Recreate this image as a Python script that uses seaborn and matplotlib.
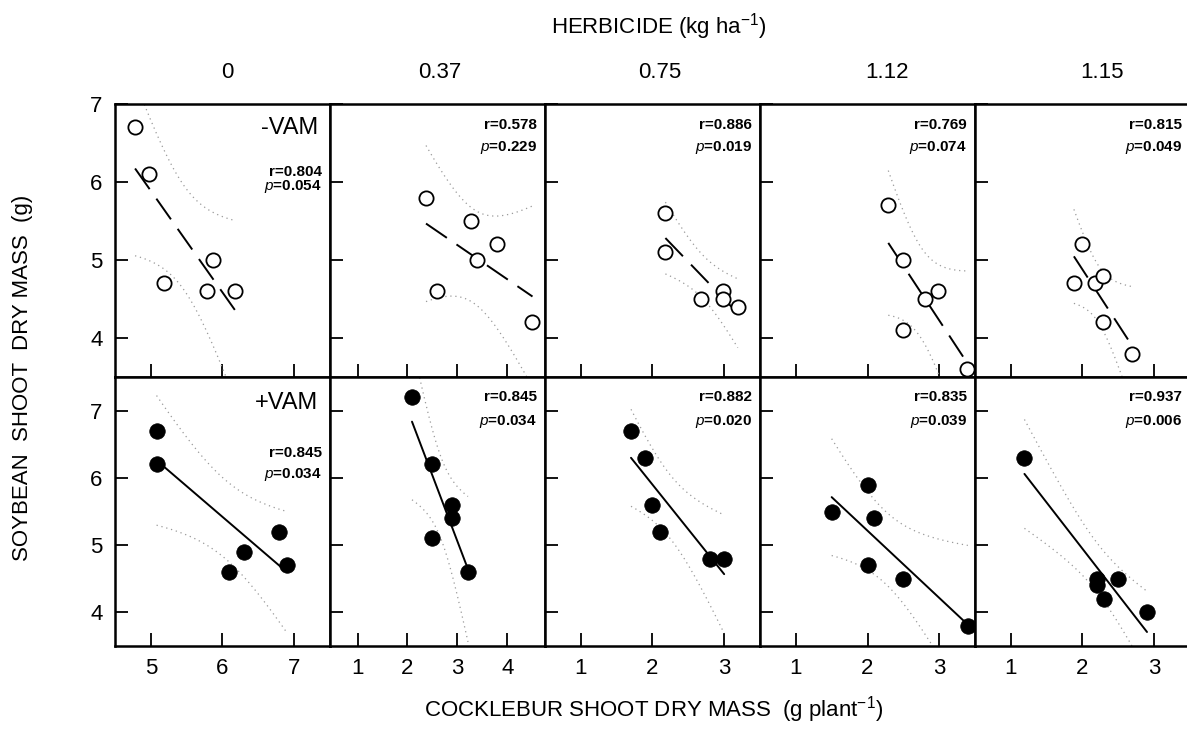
import numpy as np
import pandas as pd
import matplotlib
matplotlib.use("Agg")
import matplotlib.pyplot as plt
import seaborn as sns

# ---------------- data ----------------
herbicide = ["0", "0.37", "0.75", "1.12", "1.15"]

# -VAM (open circles)
x_nvam = [[4.78, 4.98, 5.19, 5.87, 5.78, 6.18],
          [2.37, 3.27, 3.79, 3.40, 2.59, 4.50],
          [2.18, 2.18, 2.68, 2.99, 2.99, 3.19],
          [2.29, 2.50, 2.99, 2.80, 2.50, 3.39],
          [1.99, 1.88, 2.18, 2.29, 2.29, 2.69]]
y_nvam = [[6.7, 6.1, 4.7, 5.0, 4.6, 4.6],
          [5.8, 5.5, 5.2, 5.0, 4.6, 4.2],
          [5.6, 5.1, 4.5, 4.6, 4.5, 4.4],
          [5.7, 5.0, 4.6, 4.5, 4.1, 3.6],
          [5.2, 4.7, 4.7, 4.8, 4.2, 3.8]]
# +VAM (filled circles)
x_pvam = [[5.08, 5.08, 6.79, 6.30, 6.09, 6.90],
          [2.09, 2.49, 2.89, 2.89, 2.50, 3.21],
          [1.70, 1.90, 2.00, 2.10, 2.80, 3.00],
          [1.50, 2.00, 2.09, 2.00, 2.50, 3.40],
          [1.19, 2.20, 2.20, 2.50, 2.30, 2.90]]
y_pvam = [[6.7, 6.2, 5.2, 4.9, 4.6, 4.7],
          [7.2, 6.2, 5.6, 5.4, 5.1, 4.6],
          [6.7, 6.3, 5.6, 5.2, 4.8, 4.8],
          [5.5, 5.9, 5.4, 4.7, 4.5, 3.8],
          [6.3, 4.5, 4.4, 4.5, 4.2, 4.0]]

r_nvam = ["0.804", "0.578", "0.886", "0.769", "0.815"]
p_nvam = ["0.054", "0.229", "0.019", "0.074", "0.049"]
r_pvam = ["0.845", "0.845", "0.882", "0.835", "0.937"]
p_pvam = ["0.034", "0.034", "0.020", "0.039", "0.006"]

x_limits = [(4.5, 7.5), (0.45, 4.75), (0.5, 3.5), (0.5, 3.5), (0.5, 3.5)]
x_ticks = [[5, 6, 7], [1, 2, 3, 4], [1, 2, 3], [1, 2, 3], [1, 2, 3]]
y_ticks = [4, 5, 6, 7]
y_limits = [(3.5, 7.0), (3.5, 7.5)]

# ---------------- style ----------------
sns.set_style("ticks")
plt.rcParams['font.family'] = ['Liberation Sans', 'DejaVu Sans']
plt.rcParams['text.color'] = 'black'
plt.rcParams['axes.labelcolor'] = 'black'
plt.rcParams['xtick.color'] = 'black'
plt.rcParams['ytick.color'] = 'black'
plt.rcParams['mathtext.fontset'] = 'custom'
plt.rcParams['mathtext.rm'] = 'Liberation Sans'
plt.rcParams['mathtext.it'] = 'Liberation Sans:italic'
plt.rcParams['mathtext.bf'] = 'Liberation Sans:bold'

W, H = 1187, 732
fig = plt.figure(figsize=(W / 100, H / 100), dpi=100)
gs = fig.add_gridspec(2, 5, left=115 / W, right=1190 / W, top=1 - 104 / H,
                      bottom=1 - 646 / H, wspace=0, hspace=0,
                      height_ratios=[273, 269])

T_CRIT = 2.776  # t(0.975, df=4)


def ci_band(x, y):
    x = np.asarray(x, float)
    y = np.asarray(y, float)
    b, a = np.polyfit(x, y, 1)
    xs = np.linspace(x.min(), x.max(), 200)
    resid = y - (a + b * x)
    s = np.sqrt((resid ** 2).sum() / (len(x) - 2))
    sxx = ((x - x.mean()) ** 2).sum()
    half = T_CRIT * s * np.sqrt(1 / len(x) + (xs - x.mean()) ** 2 / sxx)
    yhat = a + b * xs
    return xs, yhat - half, yhat + half


rows = [(x_nvam, y_nvam, r_nvam, p_nvam, False),
        (x_pvam, y_pvam, r_pvam, p_pvam, True)]

for ri, (xs_all, ys_all, rs, ps, filled) in enumerate(rows):
    for ci in range(5):
        ax = fig.add_subplot(gs[ri, ci])
        df = pd.DataFrame({"x": xs_all[ci], "y": ys_all[ci]})
        # confidence bands
        bx, lo, hi = ci_band(df["x"], df["y"])
        for band in (lo, hi):
            ax.plot(bx, band, color="#9a9a9a", lw=0.9, linestyle=(0, (1, 3)))
        # regression line
        ls = "-" if filled else (0, (13, 6))
        sns.regplot(data=df, x="x", y="y", ax=ax, scatter=False, ci=None,
                    truncate=True, color="black",
                    line_kws=dict(lw=1.4, linestyle=ls))
        # points
        if filled:
            sns.scatterplot(data=df, x="x", y="y", ax=ax, s=125, color="black",
                            edgecolor="black", linewidth=0.5, clip_on=False,
                            zorder=4, legend=False)
        else:
            sns.scatterplot(data=df, x="x", y="y", ax=ax, s=105, color="white",
                            edgecolor="black", linewidth=1.3, clip_on=False,
                            zorder=4, legend=False)
        ax.set_xlim(*x_limits[ci])
        ax.set_ylim(*y_limits[ri])
        ax.set_xticks(x_ticks[ci])
        ax.set_yticks(y_ticks)
        ax.set_xlabel("")
        ax.set_ylabel("")
        for sp in ax.spines.values():
            sp.set_visible(True)
            sp.set_linewidth(1.8)
            sp.set_color("black")
        ax.tick_params(direction="in", length=9.5, width=1.3, labelsize=16,
                       colors="black", labelcolor="black", pad=9)
        if ci != 0:
            ax.tick_params(labelleft=False)
        if ri == 0:
            ax.tick_params(labelbottom=False)

        # r / p annotations
        if ci == 0:
            if ri == 0:
                ry, py = 0.751, 0.696
                ax.text(0.944, 0.912, "-VAM", transform=ax.transAxes,
                        ha="right", va="center", fontsize=17, color="black")
            else:
                ry, py = 0.717, 0.636
                ax.text(0.944, 0.903, "+VAM", transform=ax.transAxes,
                        ha="right", va="center", fontsize=17, color="black")
        else:
            if ri == 0:
                ry, py = 0.923, 0.839
            else:
                ry, py = 0.926, 0.836
        ax.text(0.962, ry, "r=" + rs[ci], transform=ax.transAxes, ha="right",
                va="center", fontsize=11, fontweight="bold", color="black")
        ax.text(0.962, py, r"$\mathit{p}$=" + ps[ci], transform=ax.transAxes,
                ha="right", va="center", fontsize=11, fontweight="bold",
                color="black")

# headers and axis titles
fig.text(659 / W, 1 - 27 / H, r"HERBICIDE (kg ha$^{-1}$)", ha="center",
         va="center", fontsize=16, color="black")
header_x = [227, 440, 660, 887, 1102]
for hx, lab in zip(header_x, herbicide):
    fig.text(hx / W, 1 - 72 / H, lab, ha="center", va="center", fontsize=16,
             color="black")
fig.text(654 / W, 1 - 710 / H, r"COCKLEBUR SHOOT DRY MASS  (g plant$^{-1}$)",
         ha="center", va="center", fontsize=16, color="black")
fig.text(23 / W, 1 - 378 / H, "SOYBEAN  SHOOT  DRY MASS  (g)", ha="center",
         va="center", rotation=90, fontsize=16, color="black")

fig.savefig("out.png", dpi=100)
